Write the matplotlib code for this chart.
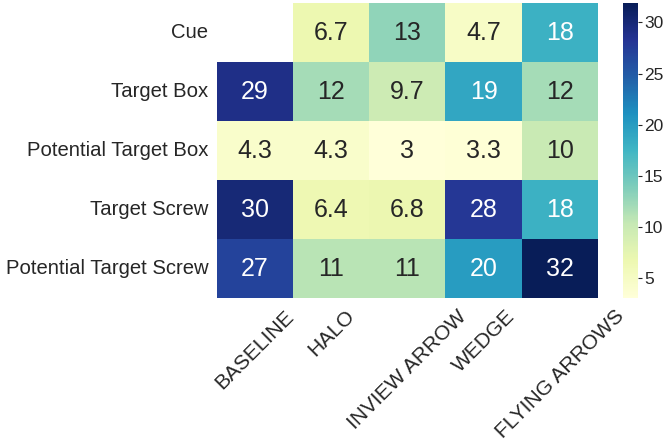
import matplotlib
matplotlib.use("Agg")
import matplotlib.pyplot as plt
import numpy as np
import pandas as pd
import seaborn as sns

# ---------------------------------------------------------------------------
# Data
# ---------------------------------------------------------------------------
rows = ["Cue", "Target Box", "Potential Target Box", "Target Screw",
        "Potential Target Screw"]
cols = ["BASELINE", "HALO", "INVIEW ARROW", "WEDGE", "FLYING ARROWS"]

cue          = [np.nan, 6.7, 13.0, 4.7, 18.0]
target_box   = [29.0, 12.0, 9.7, 19.0, 12.0]
pot_box      = [4.3, 4.3, 3.0, 3.3, 10.0]
target_screw = [30.0, 6.4, 6.8, 28.0, 18.0]
pot_screw    = [27.0, 11.0, 11.0, 20.0, 31.9]

df = pd.DataFrame([cue, target_box, pot_box, target_screw, pot_screw],
                  index=rows, columns=cols)

plt.rcParams["font.family"] = ["Liberation Sans", "DejaVu Sans"]
plt.rcParams["text.color"] = "#262626"
plt.rcParams["xtick.color"] = "#262626"
plt.rcParams["ytick.color"] = "#262626"

fig = plt.figure(figsize=(6.65, 4.43), dpi=100)
ax = fig.add_axes([0.326, 0.327, 0.573, 0.666])
cax = fig.add_axes([0.937, 0.327, 0.022, 0.666])

sns.heatmap(df, ax=ax, cbar_ax=cax, cmap="YlGnBu", annot=True, fmt=".2g",
            annot_kws={"fontsize": 18})

ax.tick_params(axis="y", length=0, pad=6)
ax.tick_params(axis="x", length=0, pad=6)
ax.set_yticklabels(rows, rotation=0, fontsize=14.6)
ax.set_xticklabels(cols, rotation=45, fontsize=15)

cax.tick_params(labelsize=12.5, length=3, width=0.8, pad=1.5)
cax.set_yticks([5, 10, 15, 20, 25, 30])
for s in cax.spines.values():
    s.set_visible(False)

fig.savefig("out.png", dpi=100)
